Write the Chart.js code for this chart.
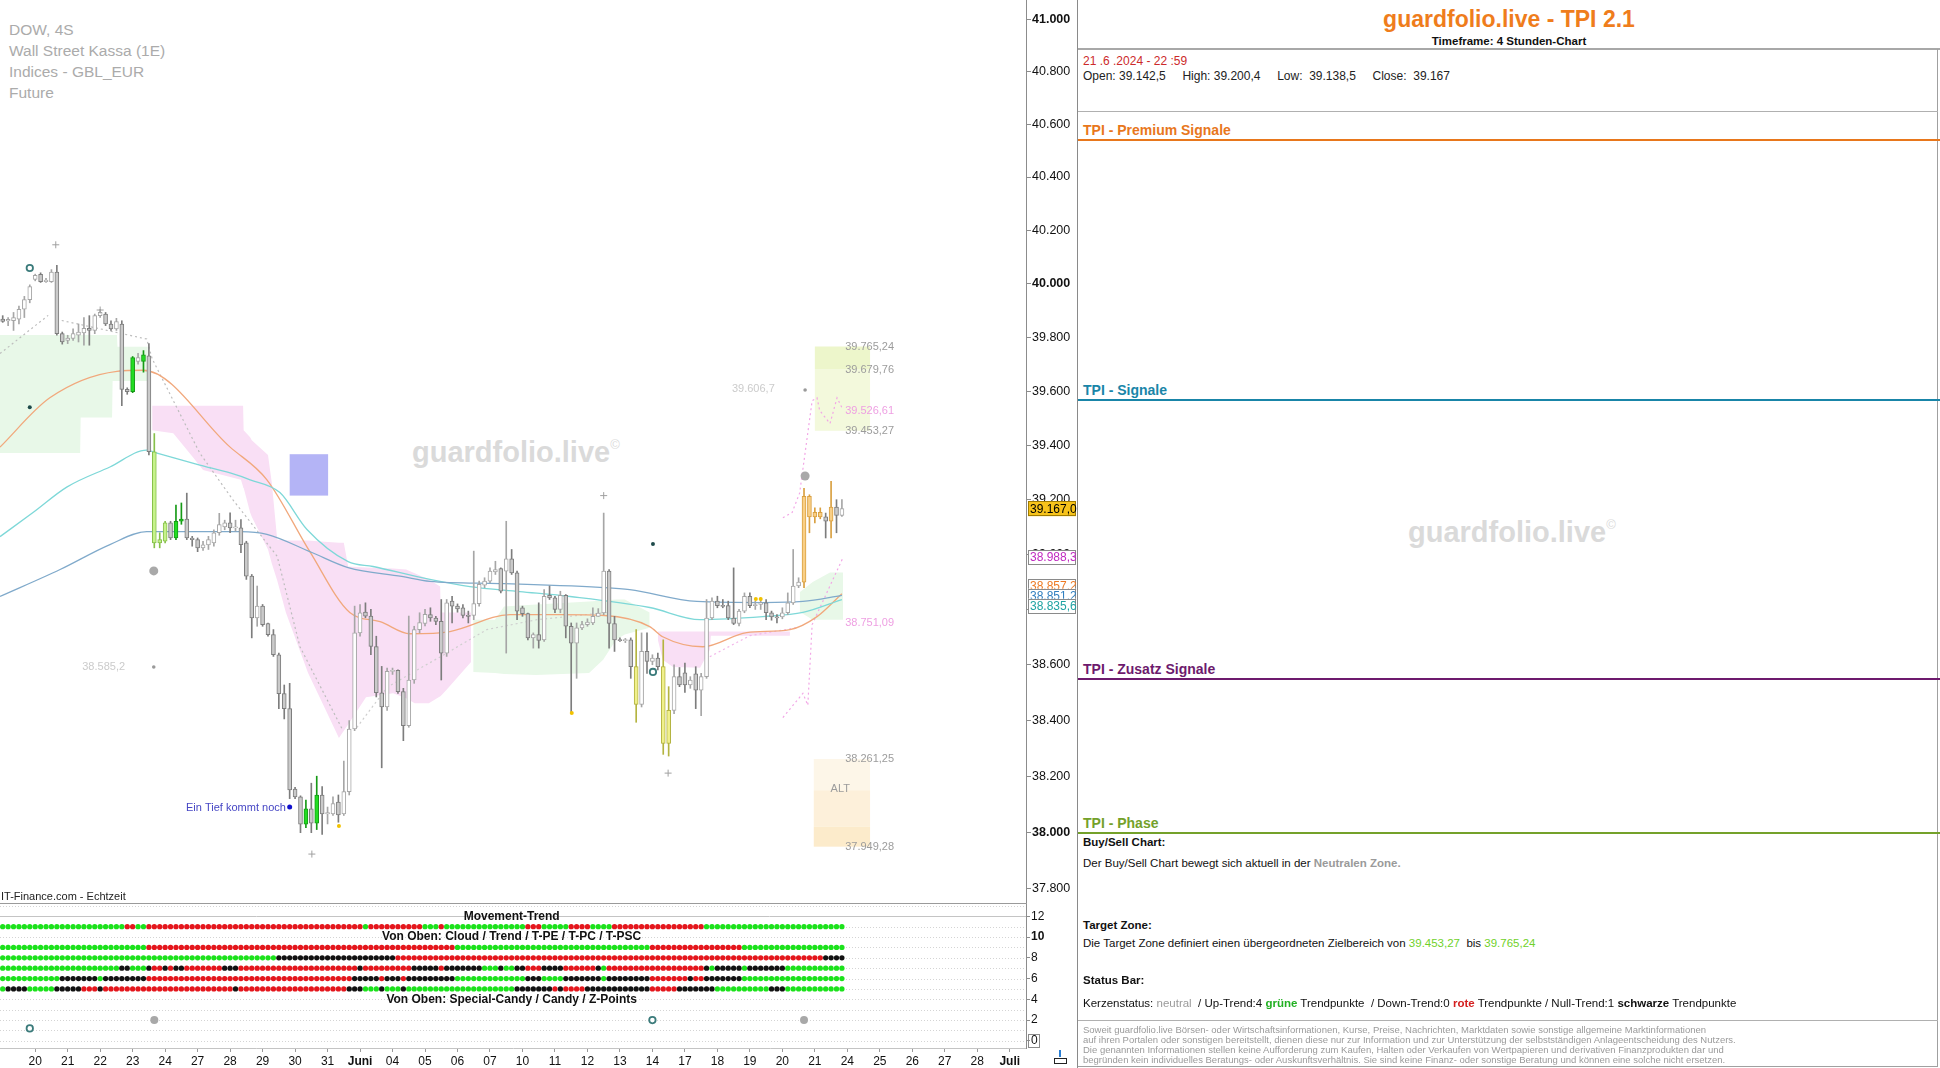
<!DOCTYPE html>
<html lang="de">
<head>
<meta charset="utf-8">
<title>guardfolio.live - TPI 2.1</title>
<script src="https://cdn.jsdelivr.net/npm/chart.js@4.4.1/dist/chart.umd.min.js"></script>
<style>
  html, body { margin: 0; padding: 0; }
  body { width: 1940px; height: 1068px; overflow: hidden; background: #fff; position: relative;
         font-family: "Liberation Sans", Arial, sans-serif; color: #111; }
  .abs { position: absolute; white-space: nowrap; }
  .mid { transform: translateY(-50%); }
  .wm { color: #dadada; font-weight: bold; font-size: 29px; }
  .wm sup { font-size: 13px; font-weight: normal; vertical-align: 13px; }
  .info { color: #ababab; font-size: 15.5px; }
  .line { position: absolute; height: 0; }
  .head { font-weight: bold; font-size: 14px; }
  .txt { font-size: 11.5px; color: #111; }
  .disc { font-size: 9.5px; color: #9a9a9a; }
  #mainBox { position: absolute; left: 0; top: 0; width: 1077px; height: 903px; }
  #indBox { position: absolute; left: 0; top: 903px; width: 1077px; height: 165px; }
</style>
</head>
<body>

<!-- watermarks sit under the transparent canvases -->
<div class="abs mid wm" style="left:412px;top:452px">guardfolio.live<sup>©</sup></div>
<div class="abs mid wm" style="left:1408px;top:532px">guardfolio.live<sup>©</sup></div>

<div class="abs mid info" style="left:9px;top:30px">DOW, 4S</div>
<div class="abs mid info" style="left:9px;top:51px">Wall Street Kassa (1E)</div>
<div class="abs mid info" style="left:9px;top:72px">Indices - GBL_EUR</div>
<div class="abs mid info" style="left:9px;top:93px">Future</div>

<div id="mainBox"><canvas id="mainChart"></canvas></div>
<div id="indBox"><canvas id="indChart"></canvas></div>

<div class="abs mid" style="left:1px;top:896px;font-size:11px;color:#222">IT-Finance.com - Echtzeit</div>
<div class="line" style="left:0;top:903px;width:1027px;border-top:1px solid #9a9a9a"></div>
<div class="line" style="left:1077px;top:0;width:0;height:1068px;border-left:1px solid #8a8a8a"></div>

<!-- little toolbar icon -->
<div class="abs" style="left:1059px;top:1050px;width:2px;height:7px;background:#2a7fd4"></div>
<div class="abs" style="left:1054px;top:1058px;width:11px;height:4px;border:1px solid #222;background:#fff"></div>

<!-- right panel -->
<div class="abs mid" style="left:1078px;width:862px;text-align:center;top:19px;font-weight:bold;font-size:23px;color:#ef7d1c">guardfolio.live - TPI 2.1</div>
<div class="abs mid" style="left:1078px;width:862px;text-align:center;top:41px;font-weight:bold;font-size:11.5px">Timeframe: 4 Stunden-Chart</div>
<div class="line" style="left:1078px;top:48px;width:862px;border-top:2px solid #a8a8a8"></div>
<div class="line" style="left:1937px;top:49px;width:0;height:1018px;border-left:1px solid #a0a0a0"></div>
<div class="line" style="left:1078px;top:1066px;width:860px;border-top:1px solid #a0a0a0"></div>

<div class="abs mid" style="left:1083px;top:61px;font-size:12px;color:#cc2a2a">21 .6 .2024 - 22 :59</div>
<div class="abs mid" style="left:1083px;top:76px;font-size:12px;color:#222;white-space:pre">Open: 39.142,5     High: 39.200,4     Low:  39.138,5     Close:  39.167</div>
<div class="line" style="left:1078px;top:111px;width:860px;border-top:1px solid #b0b0b0"></div>

<div class="abs mid head" style="left:1083px;top:130px;color:#e8771c">TPI - Premium Signale</div>
<div class="line" style="left:1078px;top:139px;width:862px;border-top:2px solid #e8771c"></div>
<div class="abs mid head" style="left:1083px;top:390px;color:#1985a8">TPI - Signale</div>
<div class="line" style="left:1078px;top:399px;width:862px;border-top:2px solid #1985a8"></div>
<div class="abs mid head" style="left:1083px;top:669px;color:#6d1a6d">TPI - Zusatz Signale</div>
<div class="line" style="left:1078px;top:678px;width:862px;border-top:2px solid #6d1a6d"></div>
<div class="abs mid head" style="left:1083px;top:823px;color:#74a12a">TPI - Phase</div>
<div class="line" style="left:1078px;top:832px;width:862px;border-top:2px solid #74a12a"></div>

<div class="abs mid txt" style="left:1083px;top:842px;font-weight:bold">Buy/Sell Chart:</div>
<div class="abs mid txt" style="left:1083px;top:863px">Der Buy/Sell Chart bewegt sich aktuell in der <b style="color:#9a9a9a">Neutralen Zone.</b></div>
<div class="abs mid txt" style="left:1083px;top:925px;font-weight:bold">Target Zone:</div>
<div class="abs mid txt" style="left:1083px;top:943px;white-space:pre">Die Target Zone definiert einen übergeordneten Zielbereich von <span style="color:#6fd12a">39.453,27</span>  bis <span style="color:#6fd12a">39.765,24</span></div>
<div class="abs mid txt" style="left:1083px;top:980px;font-weight:bold">Status Bar:</div>
<div class="abs mid txt" style="left:1083px;top:1003px;white-space:pre">Kerzenstatus: <span style="color:#9a9a9a">neutral</span>  / Up-Trend:4 <b style="color:#22b022">grüne</b> Trendpunkte  / Down-Trend:0 <b style="color:#d42020">rote</b> Trendpunkte / Null-Trend:1 <b>schwarze</b> Trendpunkte</div>
<div class="line" style="left:1078px;top:1020px;width:860px;border-top:1px solid #b0b0b0"></div>
<div class="abs mid disc" style="left:1083px;top:1029px">Soweit guardfolio.live Börsen- oder Wirtschaftsinformationen, Kurse, Preise, Nachrichten, Marktdaten sowie sonstige allgemeine Marktinformationen</div>
<div class="abs mid disc" style="left:1083px;top:1039px">auf ihren Portalen oder sonstigen bereitstellt, dienen diese nur zur Information und zur Unterstützung der selbstständigen Anlageentscheidung des Nutzers.</div>
<div class="abs mid disc" style="left:1083px;top:1049px">Die genannten Informationen stellen keine Aufforderung zum Kaufen, Halten oder Verkaufen von Wertpapieren und derivativen Finanzprodukten dar und</div>
<div class="abs mid disc" style="left:1083px;top:1059px">begründen kein individuelles Beratungs- oder Auskunftsverhältnis. Sie sind keine Finanz- oder sonstige Beratung und können eine solche nicht ersetzen.</div>

<script>
// ---------- data: 4h candles, one slot per candle (slot 6 = Mo 20.05.) ----------
const candleOpen = [
  39867, 39860, 39861, 39867, 39904, 39940, 40015, 40034, 40007, 40007,
  40043, 39813, 39788, 39795, 39807, 39816, 39833, 39825, 39880, 39886,
  39849, 39831, 39849, 39606, 39598, 39710, 39710, 39731, 39376, 39042,
  39048, 39115, 39060, 39121, 39129, 39060, 39054, 39024, 39035, 39042,
  39079, 39100, 39115, 39097, 39097, 39042, 38921, 38769, 38812, 38749,
  38709, 38636, 38496, 38442, 38154, 38126, 38029, 38084, 38033, 38133,
  38066, 38066, 38108, 38066, 38145, 38369, 38715, 38790, 38776, 38666,
  38499, 38448, 38576, 38580, 38503, 38381, 38545, 38727, 38749, 38781,
  38769, 38757, 38642, 38830, 38812, 38806, 38778, 38778, 38821, 38888,
  38903, 38936, 38948, 38939, 38984, 38933, 38806, 38785, 38697, 38709,
  38690, 38851, 38842, 38800, 38851, 38739, 38678, 38733, 38745, 38751,
  38775, 38787, 38939, 38749, 38690, 38688, 38690, 38593, 38457, 38648,
  38612, 38624, 38593, 38317, 38436, 38557, 38571, 38527, 38567, 38508,
  38557, 38769, 38830, 38814, 38814, 38769, 38749, 38794, 38848, 38814,
  38818, 38824, 38788, 38773, 38773, 38788, 38824, 38885, 38899, 39212,
  39137, 39154, 39137, 39121, 39173, 39142.5
];
const candleHigh = [
  39880, 39873, 39892, 39916, 39952, 39995, 40035, 40040, 40019, 40052,
  40068, 39819, 39807, 39831, 39849, 39873, 39880, 39886, 39904, 39892,
  39861, 39870, 39861, 39612, 39728, 39740, 39750, 39776, 39443, 39079,
  39121, 39121, 39180, 39188, 39224, 39066, 39060, 39048, 39066, 39090,
  39150, 39125, 39152, 39125, 39127, 39048, 38927, 38885, 38818, 38751,
  38727, 38642, 38527, 38533, 38160, 38130, 38115, 38175, 38200, 38163,
  38090, 38126, 38133, 38254, 38399, 38812, 38818, 38824, 38800, 38703,
  38594, 38588, 38588, 38582, 38515, 38776, 38739, 38788, 38800, 38806,
  38775, 38836, 38836, 38848, 38820, 38818, 38794, 39012, 38903, 38915,
  38951, 38975, 38951, 39121, 39018, 38939, 38812, 38787, 38715, 38824,
  38872, 38885, 38848, 38866, 38854, 38751, 38751, 38757, 38766, 38806,
  38803, 39151, 38945, 38775, 38697, 38695, 38697, 38727, 38715, 38715,
  38636, 38642, 38690, 38521, 38600, 38590, 38606, 38557, 38593, 38569,
  38836, 38842, 38848, 38836, 38830, 38951, 38800, 38860, 38860, 38830,
  38842, 38836, 38794, 38781, 38806, 38860, 39018, 38915, 39242, 39218,
  39170, 39170, 39151, 39267, 39200, 39200.4
];
const candleLow = [
  39855, 39843, 39825, 39849, 39873, 39928, 40010, 40004, 40004, 40004,
  39807, 39774, 39776, 39788, 39782, 39770, 39770, 39813, 39873, 39843,
  39825, 39825, 39546, 39588, 39594, 39700, 39670, 39364, 39024, 39024,
  39042, 39054, 39054, 39110, 39054, 39030, 39010, 39015, 39018, 39030,
  39070, 39090, 39079, 39085, 39006, 38909, 38697, 38739, 38739, 38703,
  38630, 38442, 38405, 38120, 38120, 37999, 38017, 37999, 38010, 37993,
  38030, 38060, 38036, 38060, 38133, 38363, 38703, 38770, 38636, 38484,
  38230, 38436, 38565, 38497, 38327, 38375, 38533, 38715, 38740, 38757,
  38745, 38545, 38630, 38751, 38790, 38769, 38751, 38763, 38812, 38879,
  38897, 38927, 38860, 38642, 38927, 38763, 38775, 38690, 38660, 38660,
  38684, 38836, 38788, 38788, 38697, 38424, 38551, 38727, 38739, 38745,
  38775, 38781, 38660, 38648, 38684, 38680, 38551, 38393, 38448, 38569,
  38600, 38581, 38278, 38272, 38424, 38521, 38500, 38515, 38442, 38417,
  38551, 38763, 38806, 38806, 38763, 38745, 38740, 38788, 38806, 38800,
  38800, 38763, 38761, 38751, 38766, 38781, 38818, 38879, 38879, 39079,
  39115, 39130, 39060, 39060, 39079, 39138.5
];
const candleClose = [
  39859, 39866, 39873, 39904, 39940, 39989, 40031, 40007, 40013, 40043,
  39813, 39782, 39797, 39813, 39819, 39833, 39825, 39880, 39892, 39849,
  39831, 39858, 39606, 39598, 39724, 39724, 39734, 39376, 39042, 39054,
  39115, 39060, 39121, 39129, 39060, 39054, 39024, 39035, 39054, 39079,
  39109, 39115, 39097, 39100, 39036, 38921, 38769, 38812, 38745, 38709,
  38636, 38496, 38442, 38151, 38126, 38029, 38084, 38033, 38133, 38066,
  38070, 38102, 38062, 38145, 38369, 38715, 38788, 38776, 38666, 38499,
  38448, 38576, 38580, 38503, 38381, 38545, 38727, 38752, 38782, 38769,
  38757, 38642, 38824, 38812, 38802, 38778, 38776, 38821, 38891, 38903,
  38939, 38945, 38866, 38984, 38933, 38794, 38785, 38697, 38709, 38688,
  38848, 38842, 38800, 38851, 38739, 38678, 38733, 38745, 38754, 38775,
  38787, 38939, 38749, 38690, 38688, 38690, 38593, 38457, 38648, 38612,
  38624, 38593, 38317, 38436, 38557, 38527, 38527, 38545, 38508, 38557,
  38769, 38830, 38814, 38812, 38769, 38749, 38794, 38848, 38814, 38818,
  38824, 38788, 38773, 38769, 38788, 38824, 38885, 38899, 39212, 39137,
  39154, 39137, 39121, 39173, 39142, 39167
];
// special candle colouring: G = green, L = light green, Y = yellow, O = orange
const candleTint = {24: 'G', 26: 'G', 32: 'G', 33: 'G', 56: 'G', 58: 'G', 28: 'L', 29: 'L', 30: 'L',
  117: 'Y', 122: 'Y', 123: 'Y', 148: 'O', 149: 'O', 150: 'O', 151: 'O', 153: 'O'};

// moving averages (slot, price knots)
const orangeMaX = [-0.5, 8.7, 21.1, 25.9, 42.0, 48.8, 56.7, 64.1, 69.7, 75.2, 82.6, 93.7, 102.9, 111.2, 119.5, 121.9, 129.3, 137.4, 145.4, 150.4, 155];
const orangeMaY = [39393, 39575, 39673, 39677, 39393, 39273, 39011, 38789, 38756, 38712, 38720, 38781, 38781, 38778, 38738, 38701, 38665, 38716, 38727, 38774, 38857.2];
const cyanMaX = [-0.5, 5.6, 11.9, 19.8, 26.6, 28.5, 36.4, 42.0, 45.7, 51.2, 56.2, 63.8, 68.4, 78.9, 86.3, 95.5, 104.8, 119.5, 128.8, 140.4, 147.8, 155];
const cyanMaY = [39065, 39153, 39247, 39320, 39382, 39371, 39327, 39298, 39273, 39226, 39091, 38974, 38956, 38909, 38883, 38865, 38847, 38807, 38763, 38774, 38789, 38835.6];
const blueMaX = [-0.5, 10.6, 19.8, 26.6, 44.0, 48.8, 57.1, 63.8, 73.7, 78.9, 91.8, 110.3, 115.8, 128.2, 140.4, 147.8, 155];
const blueMaY = [38847, 38945, 39036, 39083, 39083, 39073, 39007, 38952, 38920, 38902, 38894, 38880, 38872, 38829, 38825, 38829, 38851.2];

// dotted trails
const greyTrailAX = [-0.5, 8.4];
const greyTrailAY = [39739, 39881];
const greyTrailBX = [10.0, 26.6, 27.6, 36.4, 42.5, 50.7, 54.9, 62.8];
const greyTrailBY = [39866, 39793, 39720, 39371, 39200, 38993, 38665, 38365];
const greyTrailCX = [65.4, 71.0, 82.1, 89.4, 98.7, 111.6];
const greyTrailCY = [38374, 38519, 38643, 38727, 38763, 38789];
const pinkTrailAX = [144.1, 145.8, 147.2, 149.5, 150.4, 150.9, 152.8, 154.1, 155.0];
const pinkTrailAY = [39134, 39153, 39225, 39564, 39575, 39528, 39480, 39575, 39539];
const pinkTrailBX = [144.1, 147.8, 148.7, 149.5, 155.2];
const pinkTrailBY = [38410, 38497, 38454, 38745, 38988.3];
const pinkTrailCX = [130.6, 138.0, 146.7];
const pinkTrailCY = [38629, 38705, 38734];

// clouds: shared slot knots, upper and lower edge
const greenCloud1X = [-0.5, 14.3, 14.4, 20.2, 20.3, 21.1, 21.2, 26.8];
const greenCloud1Top = [39808, 39808, 39808, 39808, 39808, 39808, 39764, 39764];
const greenCloud1Bot = [39371, 39371, 39502, 39502, 39637, 39637, 39637, 39637];
const pinkCloud1X = [27.6, 31.5, 35.1, 37.0, 44.0, 44.4, 44.5, 45.7, 46.0, 49.0, 49.7, 50.7, 52.3, 56.4, 58.8, 62.1, 63.0, 63.8, 67.1, 72.1, 74.5, 76.1, 78.7, 80.8, 80.9, 81.9, 86.5];
const pinkCloud1Top = [39546, 39546, 39546, 39546, 39546, 39546, 39455, 39429, 39418, 39364, 39262, 39054, 39051, 39051, 39047, 39043, 39043, 38956, 38952, 38949, 38945, 38931, 38909, 38883, 38789, 38789, 38789];
const pinkCloud1Bot = [39455, 39444, 39357, 39309, 39273, 39247, 39244, 39153, 39138, 39018, 38967, 38905, 38789, 38570, 38472, 38337, 38363, 38385, 38483, 38497, 38479, 38461, 38461, 38487, 38487, 38508, 38610];
const greenCloud2X = [86.9, 90.9, 92.6, 98.5, 108.3, 110.9, 113.3, 114.9, 119.5];
const greenCloud2Top = [38763, 38763, 38811, 38818, 38829, 38832, 38836, 38836, 38789];
const greenCloud2Bot = [38574, 38570, 38567, 38563, 38570, 38618, 38690, 38709, 38734];
const pinkCloud2X = [121.0, 121.9, 123.8, 128.8, 130.6, 130.8, 145.4];
const pinkCloud2Top = [38720, 38720, 38720, 38720, 38720, 38720, 38720];
const pinkCloud2Bot = [38690, 38618, 38592, 38589, 38654, 38705, 38705];
const greenCloud3X = [147.2, 149.6, 152.8, 155.2];
const greenCloud3Top = [38862, 38900, 38934, 38934];
const greenCloud3Bot = [38792, 38763, 38763, 38763];

// signal markers
const plusMarkX = [9.8, 18.0, 111.0, 122.9, 57.1];
const plusMarkY = [40145, 39901, 39215, 38211, 37923];
const darkDotX = [5.0, 120.1];
const darkDotY = [39540, 39038];
const bigGreyDotX = [27.9, 148.2];
const bigGreyDotY = [38940, 39287];
const smallGreyDotX = [27.9, 148.2];
const smallGreyDotY = [38592, 39604];
const ringX = [5.0, 120.1];
const ringY = [40058, 38574];
const yellowDotX = [62.1, 105.1, 139.1, 140.0];
const yellowDotY = [38023, 38426, 38838, 38838];
const blueDotX = [53.0];
const blueDotY = [38090];

// zones: [slot from, slot to, price low, price high]
const zoneBoxes = [
  [53.0, 60.1, 39215, 39367],
  [150.0, 160.2, 39453.27, 39680],
  [150.0, 160.2, 39680, 39765.24],
  [149.8, 160.2, 38150, 38261.25],
  [149.8, 160.2, 38020, 38150],
  [149.8, 160.2, 37949.28, 38020],
];
const zoneColours = ['#b4b4f6', '#f3f9dc', '#edf6cb', '#fdf6e8', '#fdf0da', '#fcebcb'];

// chart notes: [slot, price, text, align, colour key]
const chartNotes = [
  [22.6, 38592, '38.585,2', 'right', 'pale'],
  [142.6, 39606.7, '39.606,7', 'right', 'pale'],
  [52.3, 38087, 'Ein Tief kommt noch', 'right', 'blue'],
  [155.6, 39765.24, '39.765,24', 'left', 'grey'],
  [155.6, 39679.76, '39.679,76', 'left', 'grey'],
  [155.6, 39526.61, '39.526,61', 'left', 'pink'],
  [155.6, 39453.27, '39.453,27', 'left', 'grey'],
  [155.6, 38751.09, '38.751,09', 'left', 'pink'],
  [155.6, 38261.25, '38.261,25', 'left', 'grey'],
  [155.6, 37949.28, '37.949,28', 'left', 'grey'],
  [154.7, 38155, 'ALT', 'center', 'grey'],
];
const noteColours = { pale: '#cbcbcb', blue: '#4646c4', grey: '#9c9c9c', pink: '#ee9fe2' };

const priceTicks = [37800, 38000, 38200, 38400, 38600, 38800, 39000, 39200, 39400, 39600, 39800, 40000, 40200, 40400, 40600, 40800, 41000];
// price tags on the axis: value, text colour, fill
const axisTags = [
  [39167.0, '#000000', '#f7c31b'],
  [38988.3, '#c02bc0', '#ffffff'],
  [38857.2, '#ee7a22', '#ffffff'],
  [38851.2, '#2f7fc0', '#ffffff'],
  [38835.6, '#1fa3a3', '#ffffff'],
];

// indicator panel
const dayLabels = ['20', '21', '22', '23', '24', '27', '28', '29', '30', '31', 'Juni', '04', '05', '06', '07',
  '10', '11', '12', '13', '14', '17', '18', '19', '20', '21', '24', '25', '26', '27', '28', 'Juli'];
const trendRows = [
  { level: 11, runs: 'G23 R2 G2 R40 G1 R10 G3 R1 G15 R3 G5 R4 G4 R17 G26' },
  { level: 9, runs: 'G27 R57 G36 R17 G19' },
  { level: 8, runs: 'G51 K22 R79 K4' },
  { level: 7, runs: 'G22 K2 G3 K1 R2 K1 R1 K2 R7 K3 R22 K1 R9 K5 R1 K7 G3 K1 G2 K2 R3 K4 R6 K1 G1 R18 K1 G1 K5 G1 K7 G11' },
  { level: 6, runs: 'G11 K7 G1 K8 R38 K5 R1 K3 R1 K9 G13 K3 G4 K7 G1 K8 R7 K1 R2 K7 G19' },
  { level: 5, runs: 'G1 K4 G5 K5 R3 K1 R24 K1 R20 K3 G3 K1 G3 K1 G20 K7 R1 K1 R4 K12 R5 K7 G10 K3 G11' },
];
const zPointGreyX = [28, 148];
const zPointGreyY = [2, 2];
const zPointRingX = [120, 5];
const zPointRingY = [2, 1.2];
const panelTitles = [
  [94, 11.95, 'Movement-Trend'],
  [94, 10.0, 'Von Oben: Cloud / Trend / T-PE / T-PC / T-PSC'],
  [94, 3.95, 'Von Oben: Special-Candy / Candy / Z-Points'],
];
const panelTicks = [0, 2, 4, 6, 8, 10, 12];

// ---------- helpers ----------
const FONT = '"Liberation Sans", Arial, sans-serif';
Chart.defaults.font.family = FONT;

function pts(xs, ys) { return xs.map((x, i) => ({ x: x, y: ys[i] })); }
function thousands(s) { return String(s).replace(/\B(?=(\d{3})+(?!\d))/g, '.'); }
function price1(v) { const p = v.toFixed(1).split('.'); return thousands(p[0]) + ',' + p[1]; }

const tintStyle = {
  G: ['#22dd22', '#169a16'],
  L: ['#c6f28c', '#86c04a'],
  Y: ['#f0f08c', '#b4b440'],
  O: ['#f9cf86', '#d9a041'],
};
function bodyFill(i) {
  const t = candleTint[i];
  if (t) return tintStyle[t][0];
  return candleClose[i] >= candleOpen[i] ? '#ffffff' : '#cacaca';
}
function bodyLine(i) {
  const t = candleTint[i];
  if (t) return tintStyle[t][1];
  return candleClose[i] >= candleOpen[i] ? '#a6a6a6' : '#7d7d7d';
}

const wickData = candleLow.map((l, i) => ({ x: i, y: [l, candleHigh[i]] }));
const bodyData = candleOpen.map((o, i) => {
  let lo = Math.min(o, candleClose[i]), hi = Math.max(o, candleClose[i]);
  if (hi - lo < 4) { const m = (hi + lo) / 2; lo = m - 2; hi = m + 2; }
  return { x: i, y: [lo, hi] };
});

function cloud(xs, top, bot, colour) {
  return [
    { data: pts(xs, top), fill: '+1', backgroundColor: colour, borderColor: 'rgba(0,0,0,0)', borderWidth: 0, pointRadius: 0, tension: 0, order: 20 },
    { data: pts(xs, bot), fill: false, borderColor: 'rgba(0,0,0,0)', borderWidth: 0, pointRadius: 0, tension: 0, order: 20 },
  ];
}
function trail(xs, ys, colour) {
  return { data: pts(xs, ys), borderColor: colour, borderWidth: 1.2, borderDash: [2, 3], pointRadius: 0, fill: false, tension: 0, order: 12 };
}
function maLine(xs, ys, colour) {
  return { data: pts(xs, ys), borderColor: colour, borderWidth: 1.3, pointRadius: 0, fill: false, cubicInterpolationMode: 'monotone', order: 10 };
}
function marks(xs, ys, style, radius, fillC, lineC, lineW) {
  return { data: pts(xs, ys), showLine: false, pointStyle: style, pointRadius: radius, pointBackgroundColor: fillC,
           pointBorderColor: lineC, pointBorderWidth: lineW, order: 1 };
}

// ---------- price chart ----------
const mainDecor = {
  id: 'mainDecor',
  beforeDatasetsDraw(chart) {
    const { ctx, scales: { x, y } } = chart;
    ctx.save();
    zoneBoxes.forEach((b, k) => {
      const x0 = x.getPixelForValue(b[0]), x1 = x.getPixelForValue(b[1]);
      const y0 = y.getPixelForValue(b[3]), y1 = y.getPixelForValue(b[2]);
      ctx.fillStyle = zoneColours[k];
      ctx.fillRect(x0, y0, x1 - x0, y1 - y0);
    });
    ctx.restore();
  },
  afterDatasetsDraw(chart) {
    const { ctx, scales: { x, y } } = chart;
    ctx.save();
    ctx.font = '11px ' + FONT;
    ctx.textBaseline = 'middle';
    chartNotes.forEach(n => {
      ctx.fillStyle = noteColours[n[4]];
      ctx.textAlign = n[3];
      ctx.fillText(n[2], x.getPixelForValue(n[0]), y.getPixelForValue(n[1]));
    });
    ctx.restore();
  },
  afterDraw(chart) {
    const { ctx, scales: { y } } = chart;
    const lx = chart.chartArea.right + 6;
    ctx.save();
    ctx.textBaseline = 'middle';
    ctx.textAlign = 'left';
    priceTicks.forEach(v => {
      ctx.font = (v % 1000 === 0 ? 'bold ' : '') + '12.5px ' + FONT;
      ctx.fillStyle = '#111';
      ctx.fillText(thousands(v), lx, y.getPixelForValue(v));
    });
    // price tags, spread apart when they collide
    const tags = axisTags.map(t => ({ t: t, y: y.getPixelForValue(t[0]) })).sort((a, b) => a.y - b.y);
    let groups = [];
    tags.forEach(tg => {
      const g = groups[groups.length - 1];
      if (g && tg.y - g[g.length - 1].y < 10) g.push(tg); else groups.push([tg]);
    });
    groups.forEach(g => {
      const mean = g.reduce((s, e) => s + e.y, 0) / g.length;
      g.forEach((e, k) => { e.y = mean + (k - (g.length - 1) / 2) * 10; });
    });
    ctx.font = '12px ' + FONT;
    tags.forEach(e => {
      const bx = chart.chartArea.right + 2, bw = 48, bh = 15;
      ctx.fillStyle = e.t[2];
      ctx.fillRect(bx, e.y - bh / 2, bw, bh);
      ctx.strokeStyle = e.t[2] === '#ffffff' ? '#8a8a8a' : '#a07c00';
      ctx.lineWidth = 1;
      ctx.strokeRect(bx + 0.5, Math.round(e.y - bh / 2) + 0.5, bw - 1, bh - 1);
      ctx.fillStyle = e.t[1];
      ctx.fillText(price1(e.t[0]), bx + 2, e.y + 0.5);
    });
    ctx.restore();
  }
};

new Chart(document.getElementById('mainChart'), {
  type: 'line',
  data: {
    datasets: [
      ...cloud(greenCloud1X, greenCloud1Top, greenCloud1Bot, '#e8f8e8'),
      ...cloud(pinkCloud1X, pinkCloud1Top, pinkCloud1Bot, '#f9dff5'),
      ...cloud(greenCloud2X, greenCloud2Top, greenCloud2Bot, '#e8f8e8'),
      ...cloud(pinkCloud2X, pinkCloud2Top, pinkCloud2Bot, '#f9dff5'),
      ...cloud(greenCloud3X, greenCloud3Top, greenCloud3Bot, '#e8f8e8'),
      trail(greyTrailAX, greyTrailAY, '#bdbdbd'),
      trail(greyTrailBX, greyTrailBY, '#bdbdbd'),
      trail(greyTrailCX, greyTrailCY, '#cfcfcf'),
      trail(pinkTrailAX, pinkTrailAY, '#f2a6e6'),
      trail(pinkTrailBX, pinkTrailBY, '#f2a6e6'),
      trail(pinkTrailCX, pinkTrailCY, '#f2b6ea'),
      maLine(blueMaX, blueMaY, '#80aacb'),
      maLine(cyanMaX, cyanMaY, '#7ed8d8'),
      maLine(orangeMaX, orangeMaY, '#f1a87c'),
      { type: 'bar', data: wickData, grouped: false, barThickness: 1, maxBarThickness: 1,
        backgroundColor: wickData.map((d, i) => bodyLine(i)), borderWidth: 0, order: 6 },
      { type: 'bar', data: bodyData, grouped: false, barThickness: 4, maxBarThickness: 4,
        backgroundColor: bodyData.map((d, i) => bodyFill(i)), borderColor: bodyData.map((d, i) => bodyLine(i)),
        borderWidth: 1, borderSkipped: false, order: 5 },
      marks(plusMarkX, plusMarkY, 'cross', 3.5, '#a0a0a0', '#a0a0a0', 1),
      marks(darkDotX, darkDotY, 'circle', 2, '#1e4a4a', '#1e4a4a', 0),
      marks(bigGreyDotX, bigGreyDotY, 'circle', 4.5, '#a9a9a9', '#a9a9a9', 0),
      marks(smallGreyDotX, smallGreyDotY, 'circle', 1.8, '#9a9a9a', '#9a9a9a', 0),
      marks(ringX, ringY, 'circle', 3.2, '#ffffff', '#3b7b7b', 1.8),
      marks(yellowDotX, yellowDotY, 'circle', 2, '#f2c200', '#f2c200', 0),
      marks(blueDotX, blueDotY, 'circle', 2.5, '#1010cc', '#1010cc', 0),
    ]
  },
  options: {
    responsive: true, maintainAspectRatio: false, animation: false, events: [],
    layout: { padding: 0, autoPadding: false },
    plugins: { legend: { display: false }, tooltip: { enabled: false } },
    scales: {
      x: { type: 'linear', min: -0.5, max: 189, bounds: 'data', display: false, offset: false },
      y: {
        type: 'logarithmic', position: 'right', min: 37750, max: 41074, bounds: 'data',
        afterBuildTicks: s => { s.ticks = priceTicks.map(v => ({ value: v })); },
        afterFit: s => { s.width = 51; },
        ticks: { display: false },
        grid: { drawOnChartArea: false, drawTicks: true, tickLength: 5, color: '#8c8c8c' },
        border: { display: true, color: '#8c8c8c' }
      }
    }
  },
  plugins: [mainDecor]
});

// ---------- indicator panel ----------
const rowColour = { G: '#1be21b', R: '#e4161c', K: '#121212' };
function expandRuns(str) {
  const out = [];
  str.split(' ').forEach(tok => {
    const n = +tok.slice(1);
    for (let k = 0; k < n; k++) out.push(tok[0]);
  });
  return out;
}
const rowSets = trendRows.map(row => {
  const cols = expandRuns(row.runs);
  return { data: cols.map((c, i) => ({ x: i, y: row.level })), showLine: false, pointRadius: 2.65,
           pointBorderWidth: 0, pointBackgroundColor: cols.map(c => rowColour[c]), order: 2 };
});

const panelDecor = {
  id: 'panelDecor',
  beforeDatasetsDraw(chart) {
    const { ctx, chartArea: a, scales: { y } } = chart;
    ctx.save();
    ctx.strokeStyle = '#d4d4d4';
    ctx.lineWidth = 1;
    ctx.setLineDash([1, 2]);
    for (let v = 0; v <= 13; v++) {
      const py = Math.round(y.getPixelForValue(v)) + 0.5;
      ctx.beginPath(); ctx.moveTo(a.left, py); ctx.lineTo(a.right, py); ctx.stroke();
    }
    ctx.setLineDash([]);
    ctx.strokeStyle = '#c4c4c4';
    const py = Math.round(y.getPixelForValue(12)) + 0.5;
    ctx.beginPath(); ctx.moveTo(a.left, py); ctx.lineTo(a.right, py); ctx.stroke();
    ctx.restore();
  },
  afterDatasetsDraw(chart) {
    const { ctx, scales: { x, y } } = chart;
    ctx.save();
    ctx.font = 'bold 12px ' + FONT;
    ctx.fillStyle = '#111';
    ctx.textAlign = 'center';
    ctx.textBaseline = 'middle';
    panelTitles.forEach(t => ctx.fillText(t[2], x.getPixelForValue(t[0]), y.getPixelForValue(t[1])));
    ctx.restore();
  },
  afterDraw(chart) {
    const { ctx, chartArea: a, scales: { y } } = chart;
    ctx.save();
    ctx.textAlign = 'left';
    ctx.textBaseline = 'middle';
    ctx.fillStyle = '#111';
    panelTicks.forEach(v => {
      const py = y.getPixelForValue(v);
      ctx.font = (v === 10 ? 'bold ' : '') + '12px ' + FONT;
      ctx.fillText(String(v), a.right + 5, py);
      if (v === 0) {
        ctx.strokeStyle = '#8a8a8a';
        ctx.strokeRect(a.right + 2.5, Math.round(py) - 6.5, 11, 13);
      }
    });
    ctx.restore();
  }
};

new Chart(document.getElementById('indChart'), {
  type: 'line',
  data: {
    datasets: [
      ...rowSets,
      marks(zPointGreyX, zPointGreyY, 'circle', 4, '#a8a8a8', '#a8a8a8', 0),
      marks(zPointRingX, zPointRingY, 'circle', 3.2, '#ffffff', '#3b7b7b', 1.8),
    ]
  },
  options: {
    responsive: true, maintainAspectRatio: false, animation: false, events: [],
    layout: { padding: 0, autoPadding: false },
    plugins: { legend: { display: false }, tooltip: { enabled: false } },
    scales: {
      x: {
        type: 'linear', min: -0.5, max: 189, bounds: 'data', offset: false,
        afterBuildTicks: s => { s.ticks = dayLabels.map((t, k) => ({ value: 6 + 6 * k })); },
        afterFit: s => { s.height = 20; },
        ticks: {
          autoSkip: false, maxRotation: 0, minRotation: 0, padding: 2, color: '#111',
          font: c => ({ size: 12, weight: /[A-Za-z]/.test(dayLabels[c.index] || '') ? 'bold' : 'normal' }),
          callback: (v, i) => dayLabels[i]
        },
        grid: { drawOnChartArea: false, drawTicks: true, tickLength: 4, color: '#9a9a9a' },
        border: { display: true, color: '#c4c4c4' }
      },
      y: {
        type: 'linear', position: 'right', min: -0.686, max: 13.28, bounds: 'data',
        afterBuildTicks: s => { s.ticks = panelTicks.map(v => ({ value: v })); },
        afterFit: s => { s.width = 51; },
        ticks: { display: false },
        grid: { drawOnChartArea: false, drawTicks: true, tickLength: 4, color: '#8c8c8c' },
        border: { display: true, color: '#8c8c8c' }
      }
    }
  },
  plugins: [panelDecor]
});
</script>
</body>
</html>
